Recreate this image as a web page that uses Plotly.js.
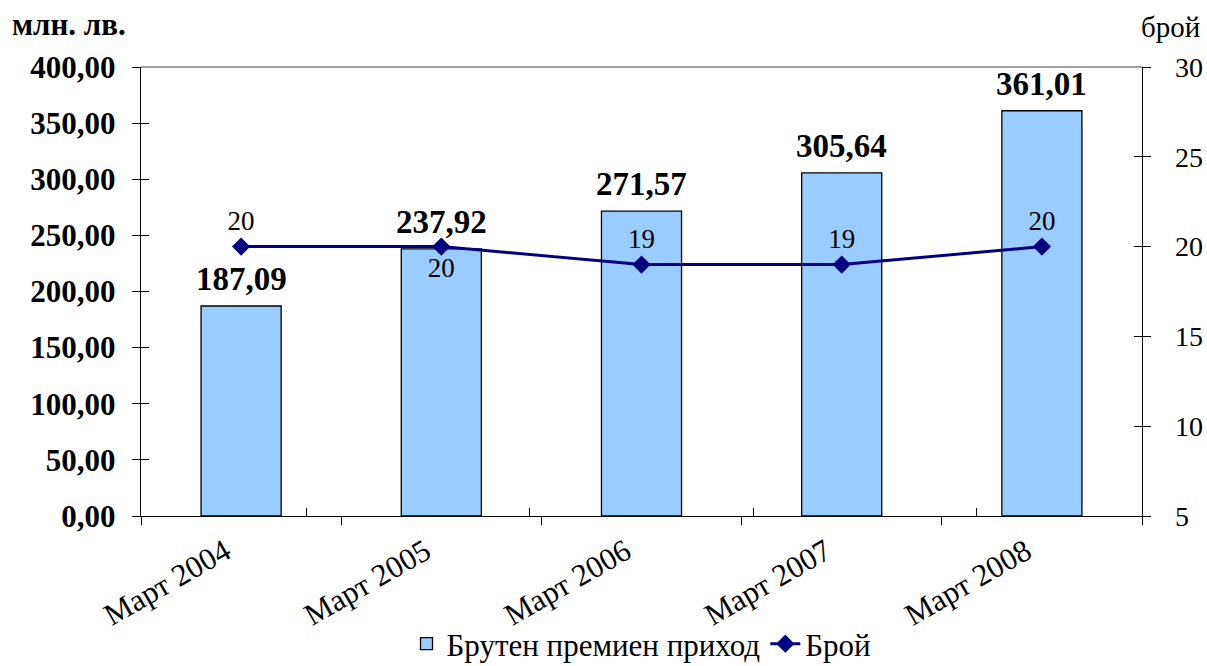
<!DOCTYPE html>
<html>
<head>
<meta charset="utf-8">
<script src="https://cdn.plot.ly/plotly-3.0.1.min.js"></script>
<style>html,body{margin:0;padding:0;background:#fff;}#chart{width:1207px;height:666px;}</style>
</head>
<body>
<div id="chart"></div>
<script>
const categories = ['Март 2004', 'Март 2005', 'Март 2006', 'Март 2007', 'Март 2008'];
const premiumIncome = [187.09, 237.92, 271.57, 305.64, 361.01];
const companyCount = [20, 20, 19, 19, 20];
const countLabelPositions = ['top center', 'bottom center', 'top center', 'top center', 'top center'];
const leftTicks = [0, 50, 100, 150, 200, 250, 300, 350, 400];
const rightTicks = [5, 10, 15, 20, 25, 30];
const seriesNames = ['Брутен премиен приход', 'Брой'];

const FONT = 'Liberation Serif, Times New Roman, serif';
const fmt = v => v.toFixed(2).replace('.', ',');

const traces = [
  {
    type: 'bar', name: seriesNames[0], x: categories, y: premiumIncome,
    xaxis: 'x', yaxis: 'y',
    marker: {color: '#99CCFF', line: {color: '#000000', width: 1.3}},
    width: 0.4, hoverinfo: 'none'
  },
  {
    type: 'scatter', mode: 'lines+markers+text', name: seriesNames[1],
    x: categories, y: companyCount, xaxis: 'x', yaxis: 'y2',
    line: {color: '#000080', width: 3},
    marker: {symbol: 'diamond', size: 14, color: '#000080'},
    text: companyCount.map(String), textposition: countLabelPositions,
    textfont: {family: FONT, size: 27, color: '#000'},
    cliponaxis: false, hoverinfo: 'none'
  },
  // invisible helpers so the overlay axes (inside half of the crossing ticks) are drawn
  {type: 'scatter', mode: 'markers', x: categories, y: premiumIncome, xaxis: 'x2', yaxis: 'y3',
   marker: {opacity: 0}, showlegend: false, hoverinfo: 'none'},
  {type: 'scatter', mode: 'markers', x: categories, y: companyCount, xaxis: 'x2', yaxis: 'y4',
   marker: {opacity: 0}, showlegend: false, hoverinfo: 'none'}
];

const barLabels = categories.map((c, i) => ({
  x: c, y: premiumIncome[i], xref: 'x', yref: 'y', text: fmt(premiumIncome[i]),
  showarrow: false, xanchor: 'center', yanchor: 'bottom', yshift: 7,
  font: {family: FONT, size: 33, color: '#000', weight: 'bold'}
}));

const layout = {
  width: 1207, height: 666,
  margin: {l: 141, r: 65, t: 67, b: 150, autoexpand: false},
  paper_bgcolor: '#fff', plot_bgcolor: '#fff',
  separators: ', ',
  font: {family: FONT, color: '#000'},
  showlegend: true,
  legend: {orientation: 'h', x: 0.5, xanchor: 'center', y: -155/449, yanchor: 'bottom',
           font: {family: FONT, size: 31, color: '#000'}, traceorder: 'normal',
           itemwidth: 30, tracegroupgap: 0, bgcolor: 'rgba(0,0,0,0)'},
  xaxis: {
    type: 'category', tickson: 'boundaries', ticks: 'outside', ticklen: 8, tickwidth: 1,
    tickcolor: '#000', showline: true, linecolor: '#000', linewidth: 1.3,
    showgrid: false, zeroline: false, tickangle: -30, ticklabelstandoff: 4,
    ticklabelshift: -16,
    tickfont: {family: FONT, size: 31, color: '#000'}
  },
  xaxis2: {
    type: 'category', overlaying: 'x', anchor: 'y', side: 'bottom', tickson: 'boundaries',
    ticks: 'inside', ticklen: 8, tickwidth: 1, tickcolor: '#000', showticklabels: false,
    showline: false, showgrid: false, zeroline: false
  },
  yaxis: {
    range: [0, 400], tickvals: leftTicks, tickformat: '.2f', ticks: 'outside', ticklen: 8,
    tickcolor: '#000', showline: true, linecolor: '#000', linewidth: 1.3,
    showgrid: false, zeroline: false, ticklabelstandoff: 10,
    tickfont: {family: FONT, size: 31, color: '#000', weight: 'bold'}
  },
  yaxis2: {
    range: [5, 30], tickvals: rightTicks, overlaying: 'y', side: 'right', anchor: 'x',
    ticks: 'outside', ticklen: 8, tickcolor: '#000', showline: true, linecolor: '#000',
    linewidth: 1.3, showgrid: false, zeroline: false, ticklabelstandoff: 18,
    tickfont: {family: FONT, size: 28, color: '#000'}
  },
  yaxis3: {
    range: [0, 400], tickvals: leftTicks, overlaying: 'y', side: 'left', anchor: 'x2',
    ticks: 'inside', ticklen: 8, tickcolor: '#000', showticklabels: false,
    showline: false, showgrid: false, zeroline: false
  },
  yaxis4: {
    range: [5, 30], tickvals: rightTicks, overlaying: 'y', side: 'right', anchor: 'x2',
    ticks: 'inside', ticklen: 8, tickcolor: '#000', showticklabels: false,
    showline: false, showgrid: false, zeroline: false
  },
  shapes: [
    {type: 'line', xref: 'paper', yref: 'paper', x0: 0, x1: 1, y0: 1, y1: 1,
     line: {color: '#808080', width: 1.3}}
  ],
  annotations: [
    {text: 'млн. лв.', xref: 'paper', yref: 'paper', x: -131/1001, y: 1 + 42/449,
     xanchor: 'left', yanchor: 'middle', showarrow: false,
     font: {family: FONT, size: 31, color: '#000', weight: 'bold'}},
    {text: 'брой', xref: 'paper', yref: 'paper', x: 1 + 60/1001, y: 1 + 40/449,
     xanchor: 'right', yanchor: 'middle', showarrow: false,
     font: {family: FONT, size: 29, color: '#000'}}
  ].concat(barLabels)
};

Plotly.newPlot('chart', traces, layout, {staticPlot: true, displayModeBar: false});
</script>
</body>
</html>
